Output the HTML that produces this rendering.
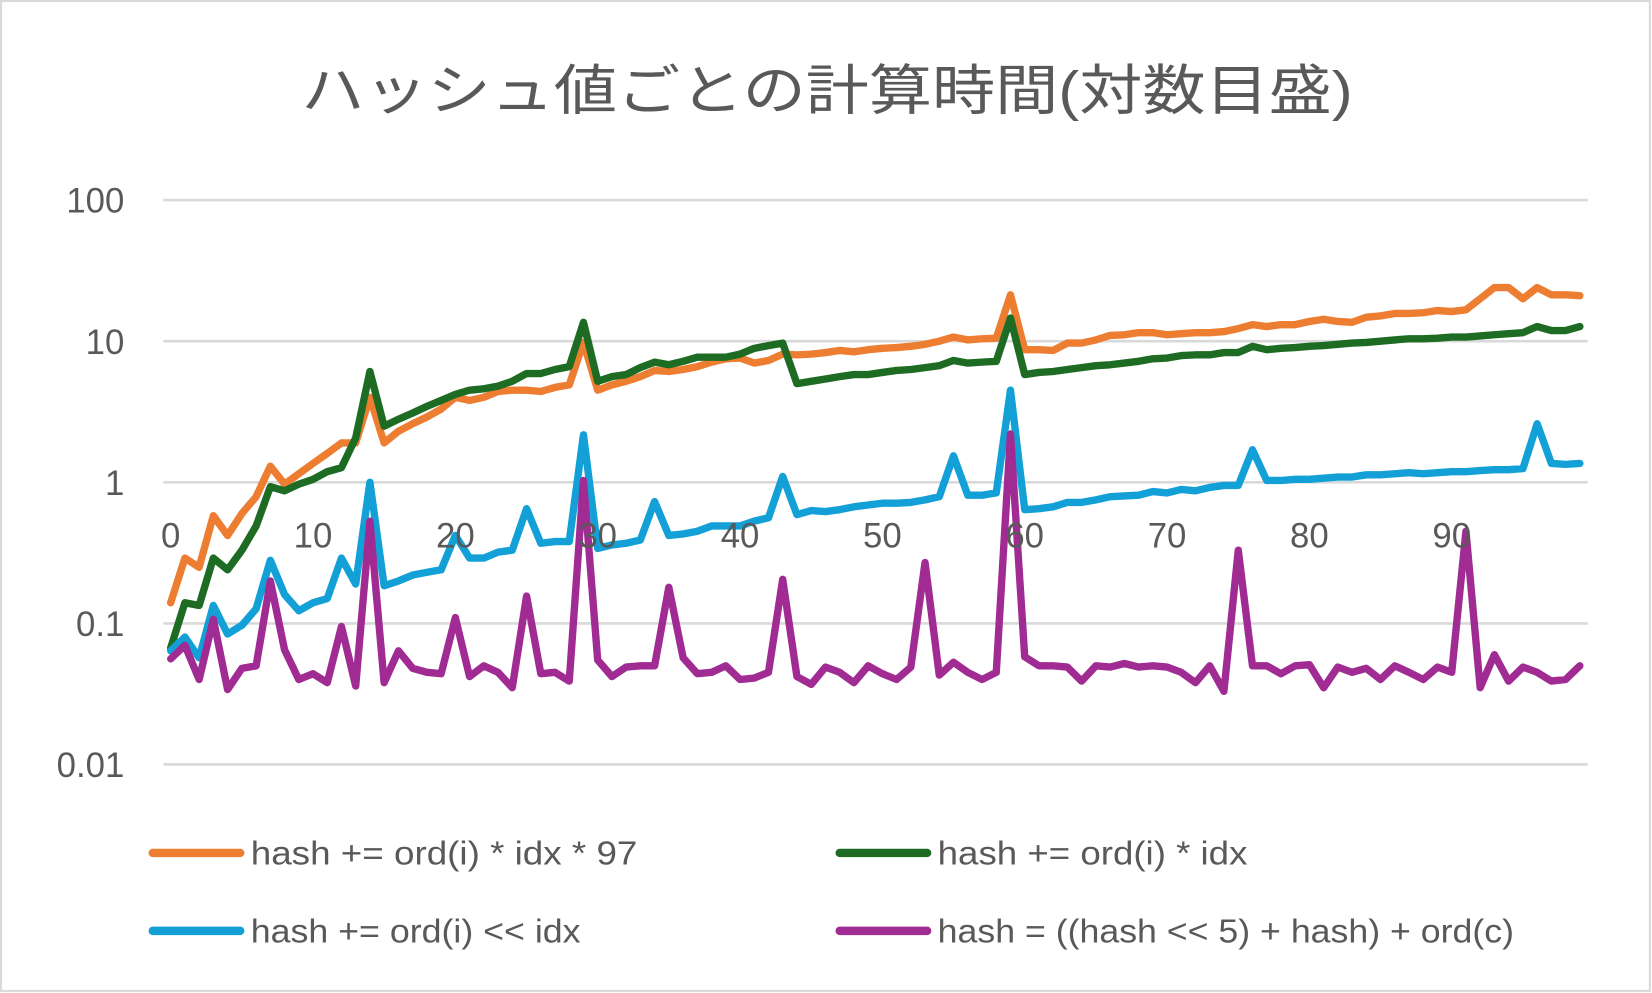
<!DOCTYPE html>
<html><head><meta charset="utf-8"><style>
html,body{margin:0;padding:0;background:#fff;}
svg{display:block;}
text{font-family:"Liberation Sans","Noto Sans CJK JP",sans-serif;fill:#595959;}
</style></head><body>
<svg id="chart" width="1652" height="993" viewBox="0 0 1568 943" preserveAspectRatio="none" xmlns="http://www.w3.org/2000/svg">
<rect x="1" y="1" width="1565" height="940" fill="#fff" stroke="#d9d9d9" stroke-width="2"/>
<text x="286" y="104" font-size="52" textLength="998" lengthAdjust="spacingAndGlyphs">ハッシュ値ごとの計算時間(対数目盛)</text>
<g id="grid"></g><g id="ylabels"></g><g id="series"></g><g id="xlabels"></g>
<g>
<line x1="145" y1="810" x2="228" y2="810" stroke="#ed7d31" stroke-width="8" stroke-linecap="round"/>
<text x="238" y="821" font-size="32" textLength="367" lengthAdjust="spacingAndGlyphs">hash += ord(i) * idx * 97</text>
<line x1="797" y1="810" x2="880" y2="810" stroke="#1e6b23" stroke-width="8" stroke-linecap="round"/>
<text x="890" y="821" font-size="32" textLength="294" lengthAdjust="spacingAndGlyphs">hash += ord(i) * idx</text>
<line x1="145" y1="884" x2="228" y2="884" stroke="#12a0d7" stroke-width="8" stroke-linecap="round"/>
<text x="238" y="895" font-size="32" textLength="313" lengthAdjust="spacingAndGlyphs">hash += ord(i) &lt;&lt; idx</text>
<line x1="797" y1="884" x2="880" y2="884" stroke="#a02b93" stroke-width="8" stroke-linecap="round"/>
<text x="890" y="895" font-size="32" textLength="547" lengthAdjust="spacingAndGlyphs">hash = ((hash &lt;&lt; 5) + hash) + ord(c)</text>
</g>
</svg>
<script>
const yTicks=[100,10,1,0.1,0.01];
const yTickLabels=["100","10","1","0.1","0.01"];
const xTicks=[0,10,20,30,40,50,60,70,80,90];
const orangeVals=[0.14,0.29,0.25,0.58,0.42,0.6,0.79,1.3,0.97,1.15,1.36,1.6,1.9,1.9,4,1.9,2.3,2.6,2.9,3.3,4,3.8,4,4.4,4.5,4.5,4.4,4.7,4.9,9.8,4.5,4.9,5.2,5.6,6.2,6.1,6.3,6.6,7.1,7.5,7.6,7.0,7.3,8.1,8,8.1,8.3,8.6,8.4,8.7,8.9,9,9.2,9.5,10,10.7,10.2,10.4,10.5,21.3,8.7,8.7,8.6,9.7,9.7,10.2,11,11.1,11.5,11.5,11.1,11.3,11.5,11.5,11.7,12.3,13.1,12.7,13.1,13.1,13.8,14.3,13.8,13.6,14.8,15.1,15.7,15.7,15.9,16.5,16.2,16.7,20,24,24,20,24,21.3,21.3,21];
const greenVals=[0.067,0.14,0.134,0.29,0.24,0.33,0.49,0.93,0.87,0.97,1.05,1.19,1.27,2.06,6.1,2.5,2.8,3.1,3.45,3.8,4.2,4.5,4.6,4.8,5.2,5.9,5.9,6.3,6.6,13.6,5.2,5.6,5.8,6.5,7.1,6.8,7.2,7.7,7.7,7.7,8.1,8.9,9.3,9.7,5.0,5.2,5.4,5.6,5.8,5.8,6,6.2,6.3,6.5,6.7,7.3,7,7.1,7.2,14.6,5.8,6,6.1,6.3,6.5,6.7,6.8,7,7.2,7.5,7.6,7.9,8,8,8.3,8.3,9.2,8.7,8.9,9,9.2,9.3,9.5,9.7,9.8,10,10.2,10.4,10.4,10.5,10.7,10.7,10.9,11.1,11.3,11.5,12.7,11.9,11.9,12.7];
const blueVals=[0.064,0.08,0.057,0.134,0.084,0.097,0.127,0.28,0.16,0.123,0.14,0.15,0.29,0.19,1.0,0.185,0.2,0.22,0.23,0.24,0.42,0.29,0.29,0.32,0.33,0.65,0.37,0.38,0.38,2.17,0.34,0.36,0.37,0.39,0.73,0.42,0.43,0.45,0.49,0.49,0.49,0.53,0.56,1.1,0.59,0.63,0.62,0.64,0.67,0.69,0.71,0.71,0.72,0.75,0.79,1.54,0.81,0.81,0.84,4.5,0.64,0.65,0.67,0.72,0.72,0.75,0.79,0.8,0.81,0.86,0.84,0.89,0.87,0.92,0.95,0.95,1.7,1.03,1.03,1.05,1.05,1.07,1.09,1.09,1.13,1.13,1.15,1.17,1.15,1.17,1.19,1.19,1.21,1.23,1.23,1.25,2.6,1.36,1.34,1.36];
const purpleVals=[0.056,0.07,0.04,0.107,0.034,0.048,0.05,0.2,0.065,0.04,0.044,0.038,0.095,0.036,0.53,0.038,0.064,0.048,0.045,0.044,0.11,0.042,0.05,0.045,0.035,0.156,0.044,0.045,0.039,1.03,0.055,0.042,0.049,0.05,0.05,0.18,0.057,0.044,0.045,0.05,0.04,0.041,0.045,0.205,0.042,0.037,0.049,0.045,0.038,0.05,0.044,0.04,0.049,0.27,0.043,0.053,0.045,0.04,0.045,2.2,0.058,0.05,0.05,0.049,0.039,0.05,0.049,0.052,0.049,0.05,0.049,0.045,0.038,0.05,0.033,0.33,0.05,0.05,0.044,0.05,0.051,0.035,0.049,0.045,0.048,0.04,0.05,0.045,0.04,0.049,0.045,0.45,0.035,0.06,0.039,0.049,0.045,0.039,0.04,0.05];

const NS="http://www.w3.org/2000/svg";
const X0=162,XS=13.51,Y100=190,DEC=134;
function xPos(i){return X0+i*XS;}
function yPos(v){return Y100+(2-Math.log10(v))*DEC;}
function mk(tag,attrs,parent){const e=document.createElementNS(NS,tag);for(const k in attrs)e.setAttribute(k,attrs[k]);parent.appendChild(e);return e;}
const grid=document.getElementById('grid'),yl=document.getElementById('ylabels'),xl=document.getElementById('xlabels'),sg=document.getElementById('series');
yTicks.forEach((t,i)=>{
  const l=mk('line',{x1:155,x2:1507,y1:yPos(t),y2:yPos(t),stroke:'#d9d9d9','stroke-width':2.5},grid);
  
  
  const tx=mk('text',{x:118,y:yPos(t)+12,'font-size':33,'text-anchor':'end'},yl);
  tx.textContent=yTickLabels[i];
  
  
});
const series=[[orangeVals,'#ed7d31','series-orange'],[greenVals,'#1e6b23','series-green'],[blueVals,'#12a0d7','series-blue'],[purpleVals,'#a02b93','series-purple']];
series.forEach(([vals,col,name])=>{
  const pts=vals.map((v,i)=>xPos(i).toFixed(1)+','+yPos(v).toFixed(1)).join(' ');
  const p=mk('polyline',{points:pts,fill:'none',stroke:col,'stroke-width':7,'stroke-linejoin':'round','stroke-linecap':'round'},sg);
  
  
});
xTicks.forEach(t=>{
  const tx=mk('text',{x:xPos(t),y:yPos(1)+62,'font-size':33,'text-anchor':'middle'},xl);
  tx.textContent=String(t);
  
  
});
</script>
</body></html>
